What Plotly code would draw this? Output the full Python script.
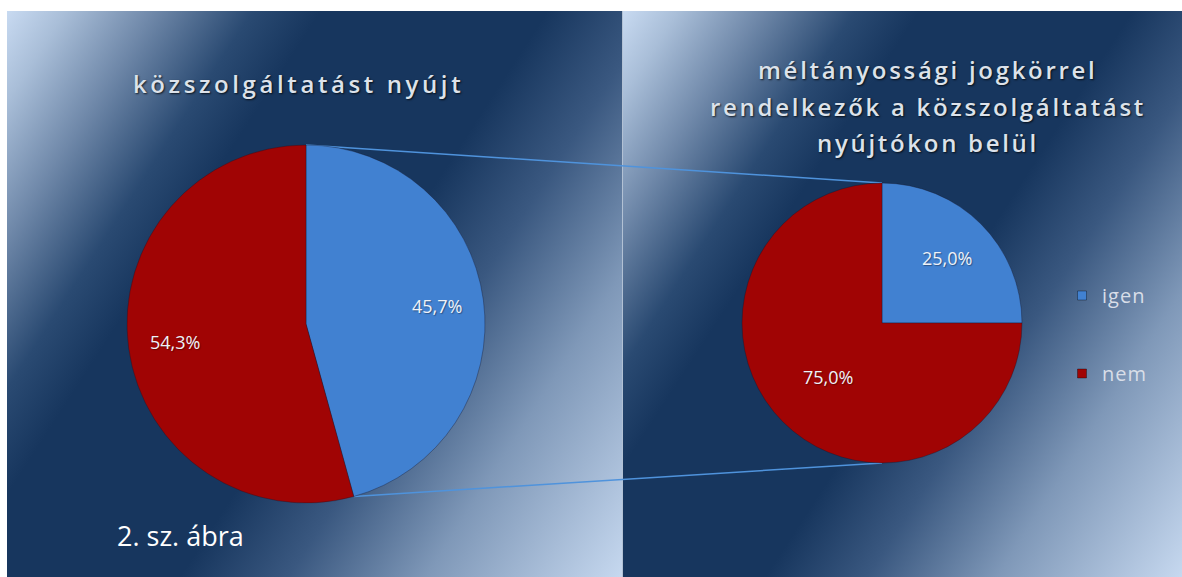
import base64
import math
import plotly.graph_objects as go

# ---------------- data ----------------
categories = ["igen", "nem"]
left_values = [45.7, 54.3]      # közszolgáltatást nyújt
right_values = [25.0, 75.0]     # méltányossági jogkörrel rendelkezők ...
left_title_lines = ["közszolgáltatást nyújt"]
right_title_lines = ["méltányossági jogkörrel", "rendelkezők a közszolgáltatást", "nyújtókon belül"]
caption = "2. sz. ábra"

# ---------------- styling / geometry ----------------
W, H = 1182, 577
BLUE = "#4181D1"
RED = "#A00404"
colors = [BLUE, RED]

c1 = (306, 324, 179)   # pixel centre x, y, radius of left pie
c2 = (882, 323, 140)   # right pie
label_frac1 = [0.74, 0.74]   # radial position of data labels (fraction of radius)
label_frac2 = [0.66, 0.55]


def px(x):
    return x / W


def py(y):
    return 1 - y / H


def domain(c):
    cx, cy, r = c
    return dict(x=[px(cx - r), px(cx + r)], y=[py(cy + r), py(cy - r)])


# background gradient panels as SVG
stops = [
    (0.00, "#C8DAF1"), (0.06, "#A9BED8"), (0.15, "#6F88A9"), (0.25, "#2A4A72"),
    (0.32, "#17365E"), (0.55, "#17365E"), (0.66, "#3A5880"), (0.80, "#7F98B8"),
    (1.00, "#C6D8EF"),
]
ang = math.radians(33)


def grad(gid, x0, y0, w, h):
    L = w * math.cos(ang) + h * math.sin(ang)
    x2 = x0 + L * math.cos(ang)
    y2 = y0 + L * math.sin(ang)
    s = "".join(f'<stop offset="{o}" stop-color="{c}"/>' for o, c in stops)
    return (f'<linearGradient id="{gid}" gradientUnits="userSpaceOnUse" '
            f'x1="{x0}" y1="{y0}" x2="{x2:.1f}" y2="{y2:.1f}">{s}</linearGradient>')


svg = (
    f'<svg xmlns="http://www.w3.org/2000/svg" width="{W}" height="{H}" viewBox="0 0 {W} {H}">'
    f'<defs>{grad("g1", 7, 11, 615, 566)}{grad("g2", 623, 11, 559, 566)}</defs>'
    f'<rect x="0" y="0" width="{W}" height="{H}" fill="#FFFFFF"/>'
    f'<rect x="7" y="11" width="615" height="566" fill="url(#g1)"/>'
    f'<rect x="623" y="11" width="559" height="566" fill="url(#g2)"/>'
    f'<rect x="622" y="11" width="1" height="566" fill="#7F98B8" opacity="0.6"/>'
    '</svg>'
)
bg_uri = "data:image/svg+xml;base64," + base64.b64encode(svg.encode()).decode()

fig = go.Figure()

label_font = dict(family="Open Sans, sans-serif", size=18, color="#EEF2F8",
                  shadow="1px 1px 1px rgba(0,0,0,0.35)")

for vals, c, fracs in [(left_values, c1, label_frac1), (right_values, c2, label_frac2)]:
    fig.add_trace(go.Pie(
        labels=categories, values=vals, sort=False, direction="clockwise",
        rotation=0, domain=domain(c),
        marker=dict(colors=colors, line=dict(color="rgba(20,20,40,0.35)", width=1)),
        textinfo="none", showlegend=False, hoverinfo="label+percent",
    ))
    # data labels placed at each slice's mid-angle
    total = sum(vals)
    start = 0.0
    for v, f in zip(vals, fracs):
        mid = 2 * math.pi * (start + v / 2) / total
        start += v
        lx = c[0] + f * c[2] * math.sin(mid)
        ly = c[1] - f * c[2] * math.cos(mid)
        txt = f"{100 * v / total:.1f}%".replace(".", ",")
        fig.add_annotation(text=txt, x=px(lx), y=py(ly), xref="paper", yref="paper",
                           showarrow=False, font=label_font,
                           xanchor="center", yanchor="middle")


def spaced(t, ls):
    return f'<span style="letter-spacing:{ls}px">{t}</span>'


# legend proxies
for name, col in zip(categories, colors):
    fig.add_trace(go.Scatter(
        x=[None], y=[None], mode="markers", name=spaced(name, 1), legendgroup=name,
        marker=dict(symbol="square", size=9, color=col,
                    line=dict(color="rgba(0,0,0,0.35)", width=1)),
    ))

# connector lines derived from the data
share = left_values[0] / sum(left_values)
theta = 2 * math.pi * share
p_top1 = (c1[0], c1[1] - c1[2])
p_end1 = (c1[0] + c1[2] * math.sin(theta), c1[1] - c1[2] * math.cos(theta))
p_top2 = (c2[0], c2[1] - c2[2])
p_bot2 = (c2[0], c2[1] + c2[2])
for a, b in [(p_top1, p_top2), (p_end1, p_bot2)]:
    fig.add_shape(type="line", xref="paper", yref="paper",
                  x0=px(a[0]), y0=py(a[1]), x1=px(b[0]), y1=py(b[1]),
                  line=dict(color="#4F93DC", width=1.5), layer="below")

title_font = dict(family="Open Sans, sans-serif", size=24, weight=600, color="#DCE2EA",
                  shadow="1px 1px 2px rgba(0,0,0,0.75)")

for i, line in enumerate(left_title_lines):
    fig.add_annotation(text=spaced(line, 3.6), x=px(298), y=py(83 + 36 * i),
                       xref="paper", yref="paper", showarrow=False, font=title_font,
                       xanchor="center", yanchor="middle")
for i, line in enumerate(right_title_lines):
    fig.add_annotation(text=spaced(line, 2.7), x=px(928), y=py(70 + 36 * i),
                       xref="paper", yref="paper", showarrow=False, font=title_font,
                       xanchor="center", yanchor="middle")
fig.add_annotation(text=caption, x=px(115), y=py(535), xref="paper", yref="paper",
                   showarrow=False, xanchor="left", yanchor="middle",
                   font=dict(family="Open Sans, sans-serif", size=27, color="#FFFFFF"))

fig.update_layout(
    width=W, height=H, margin=dict(l=0, r=0, t=0, b=0),
    paper_bgcolor="white", plot_bgcolor="rgba(0,0,0,0)",
    xaxis=dict(visible=False), yaxis=dict(visible=False),
    images=[dict(source=bg_uri, xref="paper", yref="paper", x=0, y=1,
                 sizex=1, sizey=1, sizing="stretch", layer="below",
                 xanchor="left", yanchor="top")],
    legend=dict(x=px(1062), y=py(276), xanchor="left", yanchor="top",
                bgcolor="rgba(0,0,0,0)", tracegroupgap=49, itemwidth=30,
                font=dict(family="Open Sans, sans-serif", size=20, color="#D8DEE8")),
)

fig.write_html("out.html", config={"displayModeBar": False},
               post_script="document.body.style.margin='0px';")
